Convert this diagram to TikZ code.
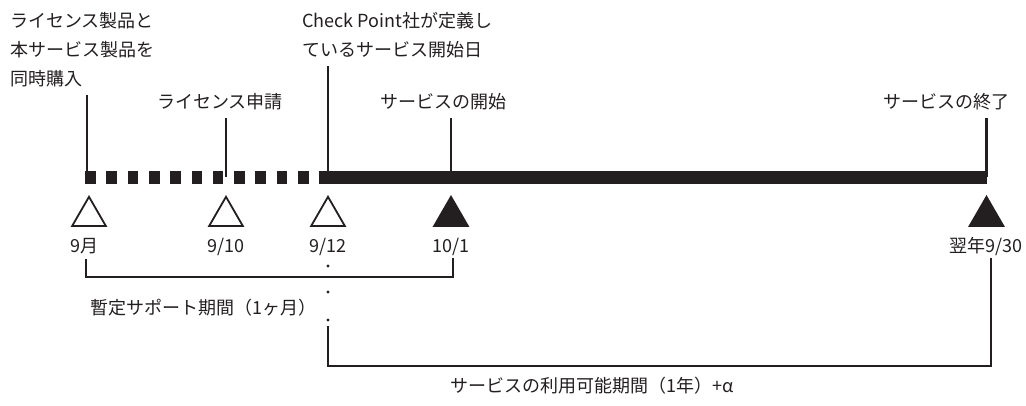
\documentclass[tikz,border=0pt]{standalone}
\usepackage{fontspec}
\setmainfont{Noto Sans CJK JP}
\usepackage{tikz}
\usetikzlibrary{positioning}
\usetikzlibrary{shapes.geometric}
\definecolor{inkgray}{HTML}{231F20}

\begin{document}
\begin{tikzpicture}[x=1pt, y=-1pt,
        every node/.style={text=inkgray, inner sep=0pt, text depth=0pt,
            font=\fontsize{18}{29}\selectfont},
        eventtext/.style={anchor=south west, align=left},
        datetext/.style={anchor=base west},
        tick/.style={draw=inkgray, line width=2.2pt, shorten >=9pt},
        bracket/.style={draw=inkgray, line width=2.4pt},
        marker/.style={regular polygon, regular polygon sides=3,
            minimum size=39pt, draw=inkgray, line width=1.8pt},
        hollowmark/.style={marker, fill=white},
        solidmark/.style={marker, fill=inkgray}]

        \useasboundingbox (0,0) rectangle (1026,405);

        % time points on the bar
        \coordinate (t1) at (87,177);
        \coordinate (t2) at (226,177);
        \coordinate (t3) at (328,177);
        \coordinate (t4) at (451,177);
        \coordinate (t5) at (986.5,177);
        \coordinate (joint) at (321,177);

        \draw[inkgray, line width=13pt, dash pattern=on 10.6pt off 10.7pt] (85,177) -- (joint);
        \draw[inkgray, line width=13pt] (joint) -- (t5);

        \node[eventtext] (purchase) at (10,85.8) {ライセンス製品と\\本サービス製品を\\同時購入};
        \node[eventtext] (apply) at (157,108.8) {ライセンス申請};
        \node[eventtext] (cpdef) at (302,56.8) {Check Point社が定義し\\ているサービス開始日};
        \node[eventtext] (start) at (380,108.8) {サービスの開始};
        \node[eventtext] (finish) at (883,108.8) {サービスの終了};

        \draw[tick] (t1) -- (purchase.south -| t1);
        \draw[tick] (t2) -- (apply.south -| t2);
        \draw[tick] (t3) -- (cpdef.south -| t3);
        \draw[tick] (t4) -- (start.south -| t4);
        \draw[tick] (t5) -- (finish.south -| t5);

        \node[hollowmark, below=18pt of t1, xshift=2pt] (m1) {};
        \node[hollowmark, below=18pt of t2] (m2) {};
        \node[hollowmark, below=18pt of t3] (m3) {};
        \node[solidmark, below=18pt of t4] (m4) {};
        \node[solidmark, below=18pt of t5] (m5) {};

        \node[datetext] (d1) at ([yshift=-26pt]m1.corner 2) {9月};
        \node[datetext] (d2) at ([yshift=-26pt]m2.corner 2) {9/10};
        \node[datetext] (d3) at ([yshift=-26pt]m3.corner 2) {9/12};
        \node[datetext] (d4) at ([yshift=-26pt]m4.corner 2) {10/1};
        \node[datetext, anchor=base east] (d5) at ([xshift=18pt, yshift=-26pt]m5.corner 3) {翌年9/30};

        % periods
        \coordinate (b1) at (86,259);
        \coordinate (b4) at (453,258);
        \coordinate (s3) at (328,326);
        \coordinate (s5) at (991,258);
        \draw[bracket] (b1) -- ++(0,18) -| (b4);
        \draw[bracket] (s3) -- ++(0,40) -| (s5);
        \foreach \y in {266,292,320}
            \fill[inkgray] (328,\y) circle (1.7pt);

        \node[datetext] (interim) at (90,314.8) {暫定サポート期間（1ヶ月）};
        \node[datetext] (service) at (450,392.8) {サービスの利用可能期間（1年）+α};
\end{tikzpicture}
\end{document}
